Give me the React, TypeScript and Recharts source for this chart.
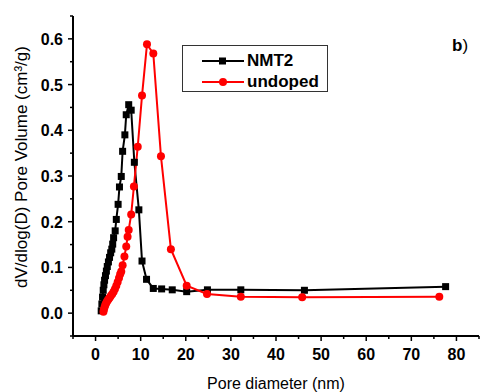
import { Label, Legend, Line, LineChart, XAxis, YAxis } from "recharts";

// NMT2 (black squares)
const nmt2X = [1.25, 1.4, 1.55, 1.7, 1.85, 2.0, 2.2, 2.4, 2.6, 2.85, 3.1, 3.35, 3.6, 3.8, 4.0, 4.35, 4.6, 5.0, 5.3, 5.7, 6.0, 6.5, 6.8, 7.35, 7.9, 8.6, 9.6, 10.3, 11.3, 12.8, 14.65, 17, 20.2, 24.8, 32.2, 46.3, 77.6];
const nmt2Y = [0.005, 0.02, 0.035, 0.05, 0.062, 0.072, 0.082, 0.092, 0.102, 0.112, 0.122, 0.132, 0.14, 0.151, 0.165, 0.18, 0.205, 0.238, 0.276, 0.299, 0.354, 0.39, 0.434, 0.456, 0.444, 0.33, 0.226, 0.114, 0.074, 0.054, 0.053, 0.051, 0.047, 0.051, 0.051, 0.05, 0.058];

// undoped (red circles)
const undopedX = [1.75, 1.85, 2.0, 2.15, 2.3, 2.5, 2.7, 2.9, 3.15, 3.4, 3.7, 4.0, 4.3, 4.6, 4.9, 5.2, 5.45, 5.7, 6.0, 6.4, 6.8, 7.1, 7.35, 7.9, 8.5, 9.35, 10.3, 11.4, 12.8, 14.5, 16.7, 20.2, 24.7, 32.2, 45.8, 76.2];
const undopedY = [0.003, 0.008, 0.013, 0.018, 0.021, 0.025, 0.028, 0.031, 0.034, 0.038, 0.042, 0.047, 0.053, 0.06, 0.068, 0.077, 0.085, 0.091, 0.105, 0.124, 0.146, 0.167, 0.182, 0.216, 0.277, 0.364, 0.476, 0.588, 0.568, 0.343, 0.14, 0.06, 0.042, 0.036, 0.035, 0.036];

const xTicks = [-5, 0, 5, 10, 15, 20, 25, 30, 35, 40, 45, 50, 55, 60, 65, 70, 75, 80, 85];
const yTicks = [-0.05, 0, 0.05, 0.1, 0.15, 0.2, 0.25, 0.3, 0.35, 0.4, 0.45, 0.5, 0.55, 0.6, 0.65];

const nmt2 = nmt2X.map((x, i) => ({ x, y: nmt2Y[i] }));
const undoped = undopedX.map((x, i) => ({ x, y: undopedY[i] }));

const FONT = "'Liberation Sans', Arial, sans-serif";

const XTick = (props: any) => {
  const { x, y, payload } = props;
  const v = payload.value;
  const major = v % 10 === 0 && v >= 0 && v <= 80;
  return (
    <g>
      <line x1={x} y1={y} x2={x} y2={y + (major ? 5 : 3)} stroke="#000" strokeWidth={1.5} />
      {major && (
        <text x={x} y={y + 24} textAnchor="middle" fontFamily={FONT} fontWeight="bold" fontSize={16} fill="#000">
          {v}
        </text>
      )}
    </g>
  );
};

const YTick = (props: any) => {
  const { x, y, payload } = props;
  const v = payload.value;
  const n = Math.round(v * 100);
  const major = n % 10 === 0 && n >= 0 && n <= 60;
  return (
    <g>
      <line x1={x} y1={y} x2={x - (major ? 5 : 3)} y2={y} stroke="#000" strokeWidth={1.5} />
      {major && (
        <text x={x - 10} y={y + 6} textAnchor="end" fontFamily={FONT} fontWeight="bold" fontSize={16} fill="#000">
          {v.toFixed(1)}
        </text>
      )}
    </g>
  );
};

const SquareDot = (props: any) => {
  const { cx, cy, index } = props;
  return <rect key={"sq" + index} x={cx - 3.5} y={cy - 3.5} width={7} height={7} fill="#000" />;
};

const LegendBox = () => (
  <div
    style={{
      width: 146,
      height: 47,
      boxSizing: "border-box",
      border: "1px solid #333",
      background: "#fff",
      fontFamily: FONT,
      fontWeight: "bold",
      fontSize: 17,
    }}
  >
    <div style={{ display: "flex", alignItems: "center", height: 20, marginTop: 5 }}>
      <svg width={64} height={20}>
        <line x1={19} y1={10} x2={61} y2={10} stroke="#000" strokeWidth={2} />
        <rect x={36} y={6.5} width={7} height={7} fill="#000" />
      </svg>
      <span>NMT2</span>
    </div>
    <div style={{ display: "flex", alignItems: "center", height: 20, marginTop: 1 }}>
      <svg width={64} height={20}>
        <line x1={19} y1={10} x2={61} y2={10} stroke="#ff0000" strokeWidth={2} />
        <circle cx={40} cy={10} r={4} fill="#ff0000" />
      </svg>
      <span>undoped</span>
    </div>
  </div>
);

export default function App() {
  return (
    <div style={{ position: "absolute", left: 0, top: 0, width: 480, height: 392, background: "#fff" }}>
      <LineChart width={480} height={392} margin={{ top: 16, right: 1, bottom: 0, left: 13 }}>
        <XAxis
          type="number"
          dataKey="x"
          domain={[-5, 85]}
          ticks={xTicks}
          interval={0}
          tick={<XTick />}
          tickSize={0}
          tickMargin={0}
          tickLine={false}
          height={56}
          axisLine={{ stroke: "#000", strokeWidth: 2 }}
          allowDataOverflow
        >
          <Label
            value="Pore diameter (nm)"
            position="insideBottom"
            offset={3}
            style={{ fontFamily: FONT, fontSize: 16, fill: "#000" }}
          />
        </XAxis>
        <XAxis
          xAxisId="top"
          orientation="top"
          type="number"
          domain={[-5, 85]}
          height={0}
          tick={false}
          tickLine={false}
          axisLine={{ stroke: "#000", strokeWidth: 2 }}
        />
        <YAxis
          type="number"
          domain={[-0.05, 0.65]}
          ticks={yTicks}
          interval={0}
          tick={<YTick />}
          tickSize={0}
          tickMargin={0}
          tickLine={false}
          width={60}
          axisLine={{ stroke: "#000", strokeWidth: 2 }}
          allowDataOverflow
        >
          <Label
            content={() => (
              <text
                x={21}
                y={167}
                transform="rotate(-90 21 167)"
                textAnchor="middle"
                dominantBaseline="central"
                fontFamily={FONT}
                fontSize={17}
                fill="#000"
              >
                dV/dlog(D) Pore Volume (cm³/g)
              </text>
            )}
          />
        </YAxis>
        <YAxis
          yAxisId="right"
          orientation="right"
          type="number"
          domain={[-0.05, 0.65]}
          width={0}
          tick={false}
          tickLine={false}
          axisLine={{ stroke: "#000", strokeWidth: 2 }}
        />
        <Legend
          layout="vertical"
          align="center"
          verticalAlign="middle"
          content={() => <LegendBox />}
          wrapperStyle={{ position: "absolute", left: 182, top: 45, width: 146, height: 47 }}
        />
        <Line
          data={nmt2}
          dataKey="y"
          name="NMT2"
          stroke="#000"
          strokeWidth={2}
          dot={<SquareDot />}
          isAnimationActive={false}
        />
        <Line
          data={undoped}
          dataKey="y"
          name="undoped"
          stroke="#ff0000"
          strokeWidth={2}
          dot={{ r: 4, fill: "#ff0000", stroke: "#ff0000", strokeWidth: 0 }}
          isAnimationActive={false}
        />
      </LineChart>
      <div style={{ position: "absolute", left: 452, top: 36, fontFamily: FONT, fontSize: 17, color: "#000" }}>
        <b>b</b>)
      </div>
    </div>
  );
}
